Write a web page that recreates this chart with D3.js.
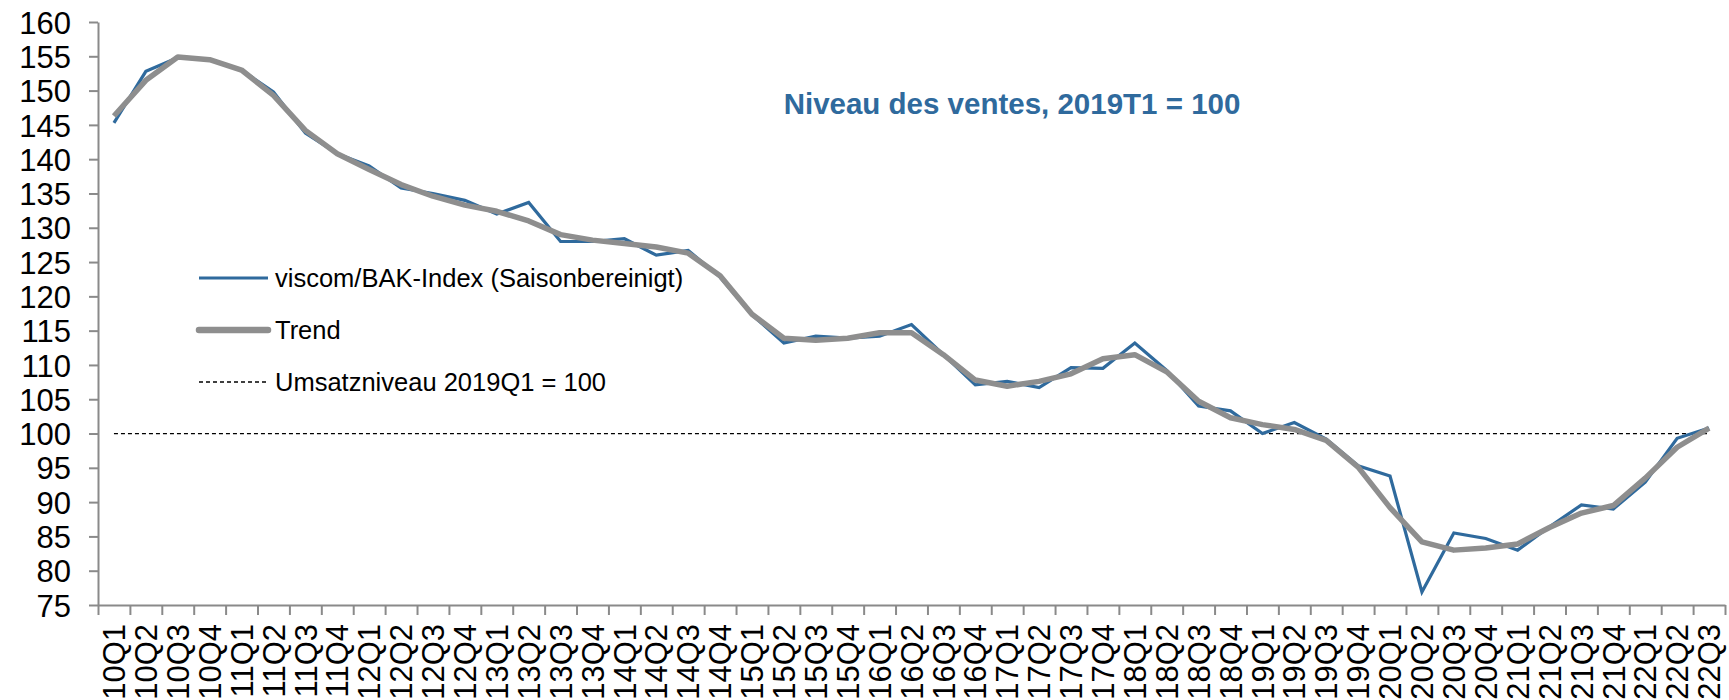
<!DOCTYPE html>
<html>
<head>
<meta charset="utf-8">
<script src="https://cdn.jsdelivr.net/npm/d3@7"></script>
<style>
body { margin: 0; background: white; }
svg { display: block; font-family: "Liberation Sans", Arial, sans-serif; }
</style>
</head>
<body>
<div id="chart"></div>
<script>
var margin = {top: 22, right: 4, bottom: 95, left: 98}
var width = 1729
var height = 700

// Data

var quarters = ["10Q1","10Q2","10Q3","10Q4","11Q1","11Q2","11Q3","11Q4",
    "12Q1","12Q2","12Q3","12Q4","13Q1","13Q2","13Q3","13Q4",
    "14Q1","14Q2","14Q3","14Q4","15Q1","15Q2","15Q3","15Q4",
    "16Q1","16Q2","16Q3","16Q4","17Q1","17Q2","17Q3","17Q4",
    "18Q1","18Q2","18Q3","18Q4","19Q1","19Q2","19Q3","19Q4",
    "20Q1","20Q2","20Q3","20Q4","21Q1","21Q2","21Q3","21Q4",
    "22Q1","22Q2","22Q3"];

var viscom = [145.3, 152.8, 154.8, 154.5, 153.0, 149.8, 143.8, 140.8,
    139.0, 135.8, 135.0, 134.0, 132.0, 133.7, 128.0, 128.0,
    128.4, 126.0, 126.7, 122.8, 117.3, 113.2, 114.2, 113.9,
    114.2, 115.9, 111.5, 107.1, 107.6, 106.7, 109.6, 109.5,
    113.2, 109.2, 104.0, 103.3, 100.0, 101.6, 99.2, 95.3,
    93.8, 76.9, 85.5, 84.7, 83.0, 86.4, 89.6, 89.0,
    92.9, 99.3, 100.8];

var trend = [146.3, 151.5, 154.9, 154.5, 153.0, 149.3, 144.2, 140.8,
    138.5, 136.3, 134.6, 133.3, 132.4, 131.0, 129.0, 128.2,
    127.7, 127.2, 126.3, 123.0, 117.4, 113.9, 113.6, 113.9,
    114.7, 114.7, 111.5, 107.8, 106.9, 107.6, 108.7, 110.9,
    111.5, 109.0, 104.7, 102.3, 101.3, 100.6, 99.0, 95.1,
    89.2, 84.2, 83.0, 83.3, 83.9, 86.3, 88.4, 89.5,
    93.5, 98.0, 100.8];

var baseLevel = 100;
var yTicks = d3.range(75, 161, 5);

var title = "Niveau des ventes, 2019T1 = 100";
var legendLabels = ["viscom/BAK-Index (Saisonbereinigt)", "Trend", "Umsatzniveau 2019Q1 = 100"];

var blue = "#2f6a9d";
var grey = "#8e8e8e";
var axisGrey = "#8a8a8a";

// Scales

var x_scale = d3.scaleBand()
    .domain(quarters)
    .range([margin.left, width - margin.right])
    .padding(0);

var x_edges = d3.scaleLinear()
    .domain([0, quarters.length])
    .range([margin.left, width - margin.right]);

var y_scale = d3.scaleLinear()
    .domain([75, 160])
    .range([height - margin.bottom, margin.top]);

var cx = function(d, i) { return x_scale(quarters[i]) + x_scale.bandwidth() / 2; };

var svg = d3.select("#chart")
    .append("svg")
    .attr("width", width)
    .attr("height", height);

// Axes

var yAxis = d3.axisLeft(y_scale)
    .tickValues(yTicks)
    .tickSize(9)
    .tickPadding(18)
    .tickSizeOuter(0);

var gy = svg.append("g")
    .attr("transform", "translate(" + margin.left + ",0)")
    .call(yAxis);
gy.select(".domain").attr("stroke", axisGrey).attr("stroke-width", 2);
gy.selectAll(".tick line").attr("stroke", axisGrey).attr("stroke-width", 2);
gy.selectAll(".tick text")
    .attr("fill", "#000")
    .style("font-size", "31px")
    .attr("dy", "0.36em");

var xTickAxis = d3.axisBottom(x_edges)
    .tickValues(d3.range(quarters.length + 1))
    .tickFormat("")
    .tickSize(10)
    .tickSizeOuter(0);

var gxt = svg.append("g")
    .attr("transform", "translate(0," + (height - margin.bottom) + ")")
    .call(xTickAxis);
gxt.select(".domain").attr("stroke", axisGrey).attr("stroke-width", 2);
gxt.selectAll(".tick line").attr("stroke", axisGrey).attr("stroke-width", 2);

var xAxis = d3.axisBottom(x_scale).tickSize(0);

var gx = svg.append("g")
    .attr("transform", "translate(0," + (height - margin.bottom) + ")")
    .call(xAxis);
gx.select(".domain").remove();
gx.selectAll(".tick text")
    .attr("fill", "#000")
    .style("font-size", "31px")
    .attr("transform", "rotate(-90)")
    .attr("text-anchor", "end")
    .attr("x", -19)
    .attr("y", 0)
    .attr("dy", "0.36em");

// Reference line at 100

svg.append("line")
    .attr("x1", cx(null, 0))
    .attr("x2", cx(null, quarters.length - 1))
    .attr("y1", y_scale(baseLevel))
    .attr("y2", y_scale(baseLevel))
    .attr("stroke", "#000")
    .attr("stroke-width", 1.3)
    .attr("stroke-dasharray", "4,3");

// Lines

var line = d3.line()
    .x(function(d, i) { return cx(d, i); })
    .y(function(d) { return y_scale(d); });

svg.append("path")
    .datum(viscom)
    .attr("fill", "none")
    .attr("stroke", blue)
    .attr("stroke-width", 3.2)
    .attr("stroke-linejoin", "miter")
    .attr("d", line);

svg.append("path")
    .datum(trend)
    .attr("fill", "none")
    .attr("stroke", grey)
    .attr("stroke-width", 5.5)
    .attr("stroke-linejoin", "round")
    .attr("d", line);

// Title

svg.append("text")
    .attr("x", 1012)
    .attr("y", 114)
    .attr("text-anchor", "middle")
    .attr("fill", blue)
    .style("font-size", "29.5px")
    .style("font-weight", "bold")
    .text(title);

// Legend

var legendY = [278, 330, 382];
var legendStyles = [
    {stroke: blue, width: 3.2, dash: null},
    {stroke: grey, width: 6.5, dash: null},
    {stroke: "#000", width: 1.3, dash: "4,3"}
];

var legend = svg.append("g");
legendLabels.forEach(function(label, i) {
    legend.append("line")
        .attr("x1", 199)
        .attr("x2", 268)
        .attr("y1", legendY[i])
        .attr("y2", legendY[i])
        .attr("stroke", legendStyles[i].stroke)
        .attr("stroke-width", legendStyles[i].width)
        .attr("stroke-linecap", i == 1 ? "round" : "butt")
        .attr("stroke-dasharray", legendStyles[i].dash);
    legend.append("text")
        .attr("x", 275)
        .attr("y", legendY[i] + 9)
        .style("font-size", "25.5px")
        .attr("fill", "#000")
        .text(label);
});
</script>
</body>
</html>
